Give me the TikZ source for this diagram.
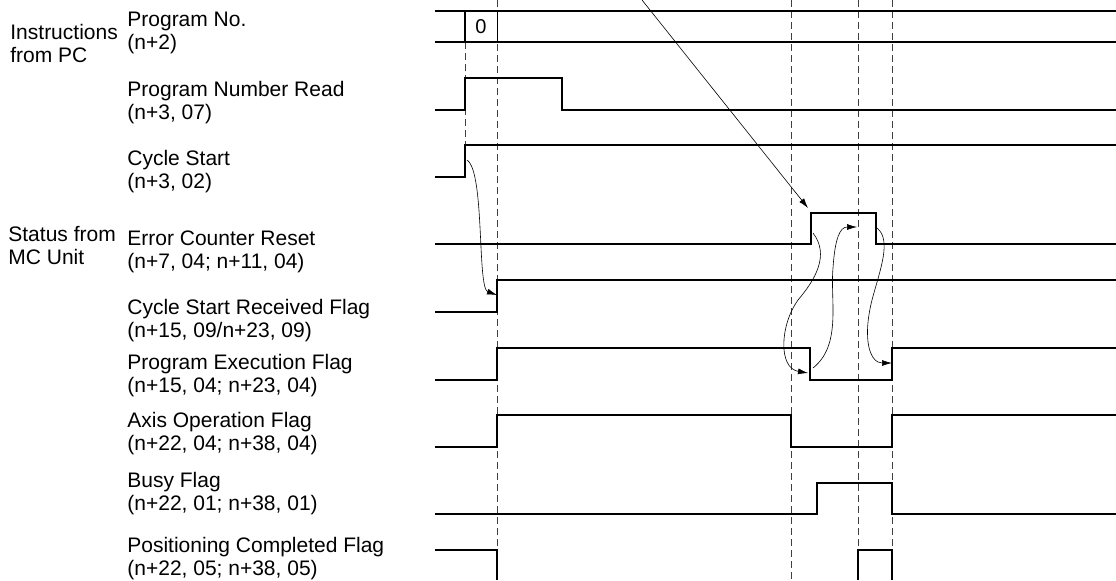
\documentclass[tikz,border=0pt]{standalone}
\usepackage{fontspec}
\setmainfont{Liberation Sans}
\usetikzlibrary{arrows.meta}

\begin{document}
\begin{tikzpicture}[
  x=0.5pt, y=-0.5pt,
  font=\fontsize{10.5}{11.5}\selectfont,
  lbl/.style={anchor=west, align=left, inner sep=0pt},
  sig/.style={line width=0.85pt, line join=miter},
  guide/.style={line width=0.4pt, dash pattern=on 3.5pt off 2pt, color=black!75},
  cause/.style={-{Latex[length=5pt,width=3pt]}, line width=0.3pt}
]
  \useasboundingbox (0,0) rectangle (1116,580);

  % Group labels on the far left.
  \node[lbl] (pc) at (10,43.5) {Instructions\\from PC};
  \node[lbl] (mc) at (8,245.5) {Status from\\MC Unit};

  % Signal names.
  \node[lbl] (progno) at (127,33) {Program No.\\(n+2)};
  \node[lbl] (pnread) at (127,102.5) {Program Number Read\\(n+3, 07)};
  \node[lbl] (cstart) at (127,172) {Cycle Start\\(n+3, 02)};
  \node[lbl] (ecreset) at (127,252) {Error Counter Reset\\(n+7, 04; n+11, 04)};
  \node[lbl] (csrecv) at (127,320.5) {Cycle Start Received Flag\\(n+15, 09/n+23, 09)};
  \node[lbl] (pexec) at (127,375.5) {Program Execution Flag\\(n+15, 04; n+23, 04)};
  \node[lbl] (axisop) at (127,433.5) {Axis Operation Flag\\(n+22, 04; n+38, 04)};
  \node[lbl] (busy) at (127,493.5) {Busy Flag\\(n+22, 01; n+38, 01)};
  \node[lbl] (poscomp) at (127,559) {Positioning Completed Flag\\(n+22, 05; n+38, 05)};

  % Dashed timing guides.
  \draw[guide] (465,42) -- (465,145);
  \foreach \gx in {497,791,858,892}
    \draw[guide] (\gx,0) -- (\gx,580);

  % Waveforms.
  \draw[sig] (435,11) -- (1116,11);
  \draw[sig] (435,42) -- (1116,42);
  \draw[sig] (465,11) -- (465,42);
  \draw[line width=0.5pt] (497,11) -- (497,42);
  \node[font=\fontsize{10}{10}\selectfont] (pval) at (481,27) {0};

  \draw[sig] (435,110) -- (465,110) -- (465,78) -- (562,78) -- (562,110) -- (1116,110);
  \draw[sig] (435,177) -- (465,177) -- (465,145) -- (1116,145);
  \draw[sig] (435,244) -- (811,244) -- (811,213) -- (876,213) -- (876,244) -- (1116,244);
  \draw[sig] (435,312) -- (497,312) -- (497,280) -- (1116,280);
  \draw[sig] (435,380) -- (497,380) -- (497,348) -- (810,348) -- (810,380) -- (892,380) -- (892,348) -- (1116,348);
  \draw[sig] (435,447) -- (497,447) -- (497,415) -- (791,415) -- (791,447) -- (892,447) -- (892,415) -- (1116,415);
  \draw[sig] (435,514) -- (817,514) -- (817,483) -- (892,483) -- (892,514) -- (1116,514);
  \draw[sig] (435,550) -- (497,550) -- (497,580);
  \draw[sig] (858,580) -- (858,550) -- (892,550) -- (892,580);

  % Cause and effect.
  \coordinate (top) at (642,0);
  \coordinate (ecrup) at (808,208);
  \coordinate (csup) at (467,160);
  \coordinate (csrup) at (497,295);
  \coordinate (ecrrise) at (813,233);
  \coordinate (pexdown) at (808,373);
  \coordinate (pexfall) at (813,368);
  \coordinate (ecrmid) at (857,227);
  \coordinate (ecrfall) at (877,228);
  \coordinate (pexup) at (892,363);

  \draw[cause] (top) -- (ecrup);
  \draw[cause] (csup) .. controls (485,172) and (477,288) .. (csrup);
  \draw[cause] (ecrrise) .. controls (830,255) and (815,280) .. (798,300)
    .. controls (780,325) and (778,368) .. (pexdown);
  \draw[cause] (pexfall) .. controls (842,345) and (830,300) .. (833,268)
    .. controls (835,238) and (840,227) .. (ecrmid);
  \draw[cause] (ecrfall) .. controls (892,240) and (880,270) .. (872,300)
    .. controls (862,340) and (870,363) .. (pexup);
\end{tikzpicture}
\end{document}
